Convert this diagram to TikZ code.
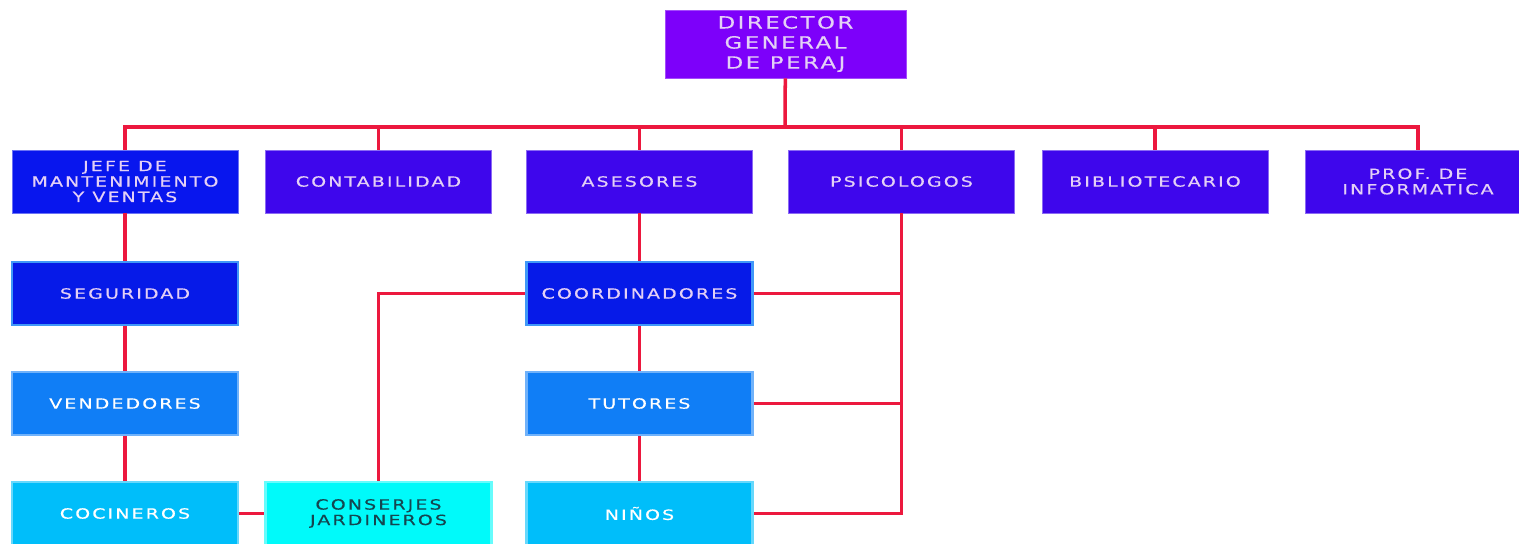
\documentclass[tikz,border=0pt]{standalone}
\usepackage{fontspec}
\setmainfont{DejaVu Sans}[LetterSpace=15,FakeStretch=1.35,FakeBold=0.5]
\usepackage{tikz}
\usetikzlibrary{positioning}

\definecolor{dirfill}{RGB}{125,0,250}
\definecolor{topfill}{RGB}{62,6,236}
\definecolor{jefefill}{RGB}{8,22,238}
\definecolor{segfill}{RGB}{6,26,232}
\definecolor{tutfill}{RGB}{16,126,246}
\definecolor{lowfill}{RGB}{0,190,250}
\definecolor{cyanfill}{RGB}{0,250,250}
\definecolor{boxtext}{RGB}{228,208,246}
\definecolor{linkred}{RGB}{236,24,62}

\begin{document}
\begin{tikzpicture}[x=0.02cm,y=-0.02cm]
\tikzstyle{puesto}=[rectangle,minimum width=4.52cm,minimum height=1.26cm,inner sep=1pt,
  align=center,text=boxtext,font=\fontsize{8}{8.8}\selectfont,line width=.5pt]
\tikzstyle{link}=[draw=linkred,line width=2pt]
\useasboundingbox (0,0) rectangle (1519,544);
\fill[white] (0,0) rectangle (1519,544);
    % direccion
    \node[puesto,fill=dirfill,draw=dirfill!70!white,minimum width=4.82cm,minimum height=1.36cm,
      font=\fontsize{9.6}{11.4}\selectfont] (dir) at (785.5,44) {DIRECTOR\\GENERAL\\DE PERAJ};
    % primer nivel
    \node[puesto,fill=jefefill,draw=jefefill!60!white] (jefe) at (125,181.5) {JEFE DE\\MANTENIMIENTO\\Y VENTAS};
    \node[puesto,fill=topfill,draw=topfill!60!white] (conta) at (378.5,181.5) {CONTABILIDAD};
    \node[puesto,fill=topfill,draw=topfill!60!white] (ases) at (639.5,181.5) {ASESORES};
    \node[puesto,fill=topfill,draw=topfill!60!white] (psico) at (901.5,181.5) {PSICOLOGOS};
    \node[puesto,fill=topfill,draw=topfill!60!white] (biblio) at (1155,181.5) {BIBLIOTECARIO};
    \node[puesto,fill=topfill,draw=topfill!60!white] (prof) at (1418,181.5) {PROF. DE\\INFORMATICA};
    % niveles inferiores
    \node[puesto,fill=segfill,draw=tutfill!80!white,line width=1.5pt] (segur) at (125,293.5) {SEGURIDAD};
    \node[puesto,fill=segfill,draw=tutfill!80!white,line width=1.5pt] (coord) at (639.5,293.5) {COORDINADORES};
    \node[puesto,fill=tutfill,draw=tutfill!60!white,line width=1.5pt,text=white] (vend) at (125,403.5) {VENDEDORES};
    \node[puesto,fill=tutfill,draw=tutfill!60!white,line width=1.5pt,text=white] (tutor) at (639.5,403.5) {TUTORES};
    \node[puesto,fill=lowfill,draw=lowfill!60!white,line width=1.5pt,text=white] (cocin) at (125,513.5) {COCINEROS};
    \node[puesto,fill=cyanfill,draw=cyanfill!60!white,line width=1.5pt,text={rgb,255:red,20;green,70;blue,80}] (conserj) at (378.5,513.5) {CONSERJES\\JARDINEROS};
    \node[puesto,fill=lowfill,draw=lowfill!60!white,line width=1.5pt,text=white] (ninos) at (639.5,513.5) {NIÑOS};
    \coordinate (bus) at (785,127);
    \draw[link] (dir) to (bus);
    \draw[link] (jefe.north) |- (bus) -| (prof.north);
    \draw[link] (conta.north) to (conta.north |- bus);
    \draw[link] (ases.north) to (ases.north |- bus);
    \draw[link] (psico.north) to (psico.north |- bus);
    \draw[link] (biblio.north) to (biblio.north |- bus);
    \draw[link] (jefe) to (segur);
    \draw[link] (segur) to (vend);
    \draw[link] (vend) to (cocin);
    \draw[link] (cocin) to (conserj);
    \draw[link] (conserj.north) |- (coord.west);
    \draw[link] (ases) to (coord);
    \draw[link] (coord) to (tutor);
    \draw[link] (tutor) to (ninos);
    \draw[link] (psico.south) |- (ninos.east);
    \draw[link] (coord.east) to (coord.east -| psico.south);
    \draw[link] (tutor.east) to (tutor.east -| psico.south);
\end{tikzpicture}
\end{document}
